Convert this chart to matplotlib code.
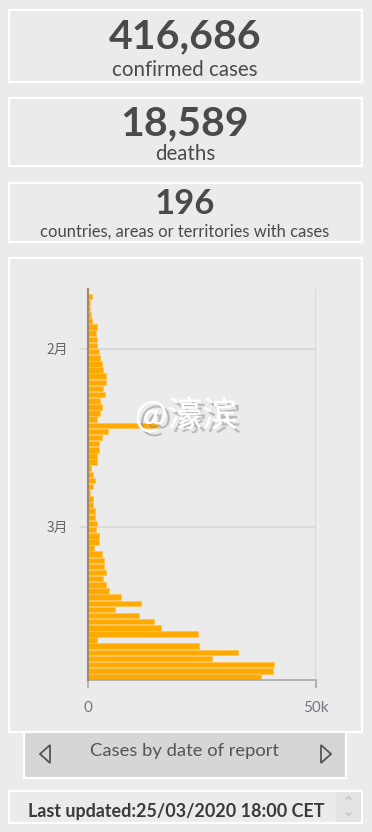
import pandas as pd
import matplotlib
matplotlib.use('Agg')
import matplotlib.pyplot as plt
import matplotlib.dates as mdates
import matplotlib.patheffects as pe
from matplotlib.patches import Rectangle, Polygon

# headline numbers
confirmed = '416,686'
deaths = '18,589'
countries = '196'
updated = 'Last updated:25/03/2020 18:00 CET'

# new cases by date of report, 23 Jan - 25 Mar 2020
dates = pd.date_range('2020-01-23', '2020-03-25', freq='D')
cases = [810, 330, 400, 700, 770, 1980, 1760, 2040, 2040,
         2420, 2640, 3010, 3300, 3960, 3960, 3300, 3670, 2700, 3010,
         2640, 2040, 15380, 4300, 3140, 2420, 2420, 2040, 1910, 730,
         1100, 1430, 1050, 330, 1100, 1100, 1430, 1430, 2040,
         1690, 2420, 2420, 1380, 3010, 3580, 3580, 3960, 3360, 3960,
         4620, 7190, 11650, 5930, 11270, 14510, 16040, 24020, 1980, 24400,
         32970, 27190, 40880, 40590, 38020]
month_ticks = ['2020-02-01', '2020-03-01']
month_labels = ['2月', '3月']
x_ticks = [0, 50000]
x_labels = ['0', '50k']

W, H = 372, 832
bg = '#ebebeb'
txt = '#4a4a4a'
plt.rcParams['font.family'] = ['Lato', 'DejaVu Sans']

fig = plt.figure(figsize=(W / 100, H / 100), dpi=100, facecolor=bg)

# background layer in pixel coordinates
base = fig.add_axes([0, 0, 1, 1])
base.set_xlim(0, W)
base.set_ylim(H, 0)
base.axis('off')

def panel(x0, y0, x1, y1, fc=bg, ec='white'):
    base.add_patch(Rectangle((x0, y0), x1 - x0, y1 - y0, fc=fc, ec=ec, lw=1.6))

panel(8.5, 9.5, 361.5, 82)
panel(8.5, 97.5, 361.5, 166)
panel(8.5, 182.5, 361.5, 242)
panel(8.5, 257.5, 361.5, 731.5)
panel(8.5, 790.5, 361.5, 823)
base.add_patch(Rectangle((336, 791.5), 25, 30.5, fc='#e3e3e3', ec='none'))
panel(23.5, 731.5, 346, 778, fc='#d6d6d6')

# headline texts
base.text(185, 48.5, confirmed, ha='center', va='baseline', fontsize=29.5,
          fontweight='bold', color=txt)
base.text(185, 76, 'confirmed cases', ha='center', va='baseline', fontsize=14.8, color=txt)
base.text(185, 135, deaths, ha='center', va='baseline', fontsize=29.5,
          fontweight='bold', color=txt)
base.text(185, 160.5, 'deaths', ha='center', va='baseline', fontsize=14.8, color=txt)
base.text(185, 213.5, countries, ha='center', va='baseline', fontsize=25,
          fontweight='bold', color=txt)
base.text(185, 236.5, 'countries, areas or territories with cases', ha='center',
          va='baseline', fontsize=11.9, color=txt)

# chart footer
base.text(185, 751, 'Cases by date of report', ha='center', va='center',
          fontsize=13.2, color='#555555')
base.add_patch(Polygon([[50, 745], [40, 754], [50, 763]], closed=True, fill=False,
                       ec='#555555', lw=1.3))
base.add_patch(Polygon([[321, 745], [331, 754], [321, 763]], closed=True, fill=False,
                       ec='#555555', lw=1.3))
base.text(176, 817.5, updated, ha='center', va='baseline', fontsize=12.9,
          fontweight='bold', color='#3a3a3a')
base.plot([346, 348.5, 351], [799, 797, 799], color='#b8b8b8', lw=0.8)
base.plot([346, 348.5, 351], [813, 815, 813], color='#b8b8b8', lw=0.8)

# bar chart
ax = fig.add_axes([88 / W, 1 - 680 / H, 228 / W, (680 - 289) / H])
ax.set_facecolor('none')
y = mdates.date2num(dates) + 0.5
ax.barh(y, cases, height=0.9, color='#ffaa00', edgecolor='#ffc453', lw=0.6, zorder=2)
ax.set_xlim(0, 50000)
ax.set_ylim(mdates.date2num(pd.Timestamp('2020-03-26')),
            mdates.date2num(pd.Timestamp('2020-01-22 07:00')))

ax.set_yticks(mdates.date2num(pd.to_datetime(month_ticks)))
ax.set_yticklabels(month_labels, family=['Noto Sans CJK SC'], fontsize=10, color='#666666')
ax.set_xticks(x_ticks)
ax.set_xticklabels(x_labels, fontsize=11, color='#6f7782')
ax.tick_params(axis='y', length=6, color='#d6d6d6', width=1.2, pad=8)
ax.tick_params(axis='x', length=6, color='#a8a8a8', width=1.2, pad=9)
ax.grid(True, color='#d6d6d6', lw=1.2, zorder=0)
ax.set_axisbelow(True)
for s in ['top', 'right']:
    ax.spines[s].set_visible(False)
ax.spines['bottom'].set_color('#a8a8a8')
ax.spines['bottom'].set_linewidth(1.2)
ax.spines['left'].set_color('#a08a6a')
ax.spines['left'].set_linewidth(1.5)
ax.spines['left'].set_zorder(3)

# watermark
fig.text(186 / W, 1 - 416 / H, '@濠滨', ha='center', va='center', fontsize=25,
         color='white', family=['Noto Sans CJK SC', 'DejaVu Sans'], zorder=10,
         path_effects=[pe.withSimplePatchShadow(offset=(3, -3), shadow_rgbFace='#8a8a8a',
                                                alpha=0.5), pe.Normal()])

fig.savefig('out.png', dpi=100, facecolor=bg)
